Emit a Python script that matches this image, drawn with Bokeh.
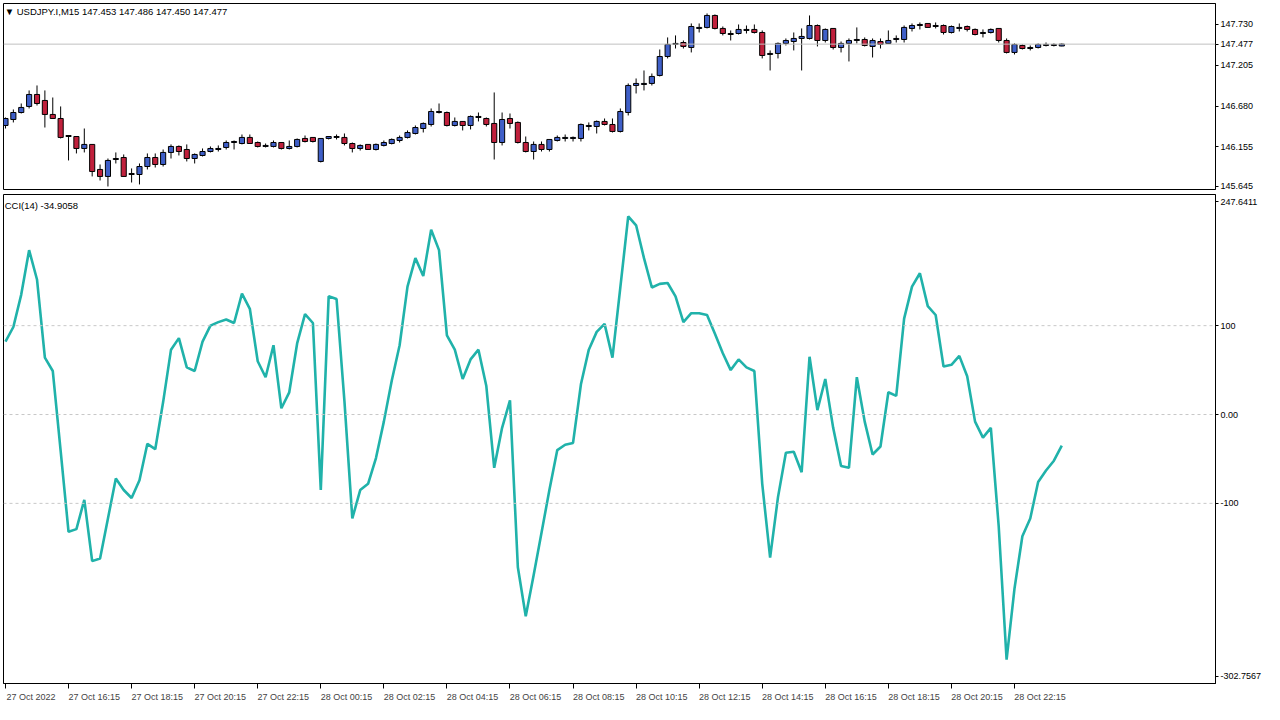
from bokeh.plotting import figure
from bokeh.layouts import column
from bokeh.models import (FixedTicker, Span, Label, Range1d, ColumnDataSource,
                          PrintfTickFormatter)
from bokeh.embed import file_html
from bokeh.resources import INLINE

# ---------------- data ----------------
symbol_header = "\u25BC USDJPY.I,M15  147.453 147.486 147.450 147.477"
cci_header = "CCI(14) -34.9058"
last_price = 147.477

opens = [146.430, 146.507, 146.597, 146.675, 146.829, 146.752, 146.572, 146.520, 146.288, 146.288,
         146.134, 146.186, 145.864, 145.774, 145.992, 146.018, 145.799, 145.799, 145.902, 146.018,
         145.928, 146.083, 146.160, 146.121, 146.005, 146.044, 146.095, 146.121, 146.147, 146.211,
         146.198, 146.276, 146.211, 146.160, 146.160, 146.211, 146.134, 146.160, 146.263, 146.276,
         145.967, 146.263, 146.276, 146.276, 146.198, 146.134, 146.186, 146.121, 146.173, 146.198,
         146.237, 146.276, 146.327, 146.391, 146.443, 146.597, 146.597, 146.430, 146.482, 146.430,
         146.533, 146.520, 146.456, 146.211, 146.520, 146.469, 146.211, 146.095, 146.186, 146.121,
         146.237, 146.263, 146.263, 146.263, 146.417, 146.417, 146.482, 146.443, 146.353, 146.597,
         146.945, 146.958, 146.971, 147.074, 147.318, 147.473, 147.498, 147.434, 147.679, 147.692,
         147.846, 147.679, 147.601, 147.614, 147.653, 147.666, 147.627, 147.344, 147.357, 147.486,
         147.511, 147.550, 147.550, 147.717, 147.524, 147.679, 147.434, 147.486, 147.524, 147.537,
         147.447, 147.511, 147.486, 147.537, 147.537, 147.679, 147.717, 147.743, 147.704, 147.717,
         147.627, 147.679, 147.704, 147.666, 147.614, 147.627, 147.679, 147.524, 147.370, 147.460,
         147.421, 147.434, 147.460, 147.460, 147.453]
highs = [146.533, 146.636, 146.713, 146.881, 146.945, 146.881, 146.790, 146.675, 146.301, 146.288,
         146.391, 146.186, 145.928, 146.005, 146.083, 146.057, 145.877, 145.941, 146.070, 146.070,
         146.121, 146.186, 146.173, 146.186, 146.070, 146.134, 146.160, 146.173, 146.237, 146.237,
         146.314, 146.314, 146.224, 146.198, 146.237, 146.211, 146.237, 146.263, 146.301, 146.276,
         146.263, 146.288, 146.314, 146.327, 146.211, 146.186, 146.186, 146.198, 146.237, 146.263,
         146.301, 146.366, 146.430, 146.469, 146.649, 146.713, 146.610, 146.533, 146.482, 146.559,
         146.597, 146.533, 146.855, 146.597, 146.584, 146.482, 146.288, 146.224, 146.224, 146.250,
         146.301, 146.314, 146.288, 146.456, 146.469, 146.494, 146.520, 146.520, 146.649, 146.971,
         147.035, 147.138, 147.099, 147.408, 147.563, 147.589, 147.524, 147.743, 147.743, 147.872,
         147.859, 147.704, 147.653, 147.730, 147.717, 147.730, 147.653, 147.396, 147.498, 147.550,
         147.627, 147.679, 147.846, 147.730, 147.679, 147.679, 147.511, 147.550, 147.692, 147.563,
         147.550, 147.550, 147.653, 147.589, 147.717, 147.743, 147.756, 147.743, 147.756, 147.730,
         147.717, 147.743, 147.717, 147.679, 147.666, 147.679, 147.679, 147.550, 147.486, 147.473,
         147.460, 147.486, 147.498, 147.486, 147.486]
lows = [146.391, 146.469, 146.584, 146.649, 146.687, 146.404, 146.520, 146.263, 145.980, 146.070,
        146.083, 145.774, 145.722, 145.645, 145.941, 145.774, 145.696, 145.671, 145.864, 145.889,
        145.902, 146.005, 146.044, 145.967, 145.941, 146.031, 146.083, 146.095, 146.121, 146.121,
        146.186, 146.198, 146.147, 146.147, 146.147, 146.121, 146.121, 146.147, 146.211, 146.211,
        145.954, 146.250, 146.250, 146.173, 146.083, 146.108, 146.121, 146.108, 146.160, 146.186,
        146.211, 146.263, 146.314, 146.340, 146.417, 146.584, 146.417, 146.417, 146.366, 146.379,
        146.482, 146.417, 145.992, 146.173, 146.391, 146.198, 146.083, 145.992, 146.095, 146.095,
        146.224, 146.224, 146.224, 146.224, 146.366, 146.327, 146.430, 146.340, 146.340, 146.559,
        146.842, 146.881, 146.945, 147.061, 147.293, 147.421, 147.421, 147.370, 147.627, 147.679,
        147.666, 147.589, 147.524, 147.601, 147.614, 147.614, 147.293, 147.138, 147.293, 147.460,
        147.396, 147.138, 147.537, 147.447, 147.498, 147.408, 147.370, 147.254, 147.486, 147.447,
        147.305, 147.421, 147.486, 147.498, 147.498, 147.640, 147.666, 147.692, 147.679, 147.601,
        147.614, 147.640, 147.640, 147.589, 147.563, 147.614, 147.498, 147.357, 147.344, 147.408,
        147.396, 147.421, 147.447, 147.447, 147.450]
closes = [146.520, 146.597, 146.662, 146.829, 146.713, 146.572, 146.520, 146.276, 146.301, 146.134,
          146.186, 145.838, 145.774, 145.980, 146.005, 145.774, 145.812, 145.902, 146.018, 145.928,
          146.083, 146.160, 146.095, 146.005, 146.057, 146.095, 146.134, 146.134, 146.211, 146.224,
          146.276, 146.198, 146.160, 146.173, 146.211, 146.134, 146.160, 146.250, 146.224, 146.224,
          146.263, 146.288, 146.288, 146.198, 146.134, 146.173, 146.121, 146.186, 146.211, 146.250,
          146.276, 146.340, 146.404, 146.456, 146.610, 146.610, 146.430, 146.482, 146.430, 146.546,
          146.546, 146.443, 146.211, 146.507, 146.456, 146.211, 146.095, 146.186, 146.121, 146.250,
          146.276, 146.276, 146.276, 146.443, 146.430, 146.482, 146.443, 146.353, 146.610, 146.945,
          146.971, 146.971, 147.061, 147.318, 147.473, 147.486, 147.447, 147.704, 147.692, 147.846,
          147.679, 147.614, 147.614, 147.666, 147.666, 147.627, 147.331, 147.357, 147.486, 147.524,
          147.550, 147.576, 147.717, 147.524, 147.666, 147.434, 147.486, 147.524, 147.537, 147.460,
          147.524, 147.473, 147.524, 147.550, 147.692, 147.717, 147.730, 147.692, 147.717, 147.627,
          147.704, 147.692, 147.666, 147.601, 147.627, 147.666, 147.524, 147.370, 147.473, 147.421,
          147.434, 147.473, 147.473, 147.473, 147.477]

cci = [82, 98.5, 135, 185, 152, 64, 49, -41, -132, -129,
       -96, -165, -162, -117, -72, -85, -94, -74, -33, -39,
       14, 73, 86, 53, 49, 82, 100, 104, 107, 103,
       136, 119, 60, 42, 78, 7, 25, 80, 113, 103,
       -85, 133, 130, 15, -117, -85, -78, -49, -8, 38,
       78, 144, 176, 156, 208, 185, 89, 73, 40, 62,
       73, 32, -60, -15, 16, -172, -227, -181, -133, -85,
       -40, -34, -32, 34, 73, 93, 102, 64, 143, 223,
       213, 176, 143, 147, 148, 133, 104, 114, 114, 112,
       91, 69, 50, 62, 53, 49, -78, -161, -93, -43,
       -42, -65, 65, 5, 40, -15, -58, -60, 42, -8,
       -45, -36, 25, 21, 108, 144, 159, 122, 112, 54,
       56, 66, 43, -8, -26, -15, -126, -276, -196, -137,
       -117, -76, -63, -52, -34.9058]

time_tick_bars = [0, 8, 16, 24, 32, 40, 48, 56, 64, 72, 80, 88, 96, 104, 112, 120, 128]
time_tick_labels = ["27 Oct 2022", "27 Oct 16:15", "27 Oct 18:15", "27 Oct 20:15",
                    "27 Oct 22:15", "28 Oct 00:15", "28 Oct 02:15", "28 Oct 04:15",
                    "28 Oct 06:15", "28 Oct 08:15", "28 Oct 10:15", "28 Oct 12:15",
                    "28 Oct 14:15", "28 Oct 16:15", "28 Oct 18:15", "28 Oct 20:15",
                    "28 Oct 22:15"]
price_ticks = [145.645, 146.155, 146.680, 147.205, 147.730]
price_range = (145.606, 148.000)
cci_levels = [100, 0, -100]
cci_level_labels = ["100", "0.00", "-100"]
cci_range = (-302.7567, 247.6411)
cci_range_labels = ["-302.7567", "247.6411"]

# ---------------- style ----------------
BULL = "#3F5FC8"
BEAR = "#C0203C"
CCI_COLOR = "#20B2AA"
FONT = "Liberation Sans"
FS = "9px"
W = 1264
RIGHT = 47
LABEL_SHIFT = 3.25     # left-align time labels at their tick (in bars)
EDGE_INSET = 8.0       # keep CCI range labels inside the pane (in CCI units)

n = len(closes)
xs = list(range(n))
x_range = Range1d(-0.25, 153.5)

src = ColumnDataSource(dict(
    x=xs,
    high=highs,
    low=lows,
    top=[max(o, c) for o, c in zip(opens, closes)],
    bottom=[min(o, c) for o, c in zip(opens, closes)],
    color=[BULL if c >= o else BEAR for o, c in zip(opens, closes)],
))


def style(p):
    p.background_fill_color = "white"
    p.border_fill_color = "white"
    p.outline_line_color = "black"
    p.outline_line_width = 1
    p.xgrid.visible = False
    p.ygrid.visible = False
    for ax in p.yaxis:
        ax.axis_line_color = "black"
        ax.major_tick_line_color = "black"
        ax.major_tick_out = 3
        ax.major_tick_in = 0
        ax.minor_tick_line_color = None
        ax.major_label_text_font = FONT
        ax.major_label_text_font_size = FS
        ax.major_label_text_color = "black"
        ax.major_label_standoff = 2


# ---------------- price pane ----------------
top = figure(width=W, height=192, x_range=x_range, y_range=Range1d(*price_range),
             output_backend="svg", toolbar_location=None, y_axis_location="right",
             x_axis_location=None, min_border_left=3, min_border_right=RIGHT,
             min_border_top=3, min_border_bottom=3)
style(top)
top.yaxis.ticker = FixedTicker(ticks=sorted(price_ticks + [last_price]))
top.yaxis.formatter = PrintfTickFormatter(format="%.3f")

top.add_layout(Span(location=last_price, dimension="width", line_color="#C0C0C0", line_width=1))
top.segment(x0="x", y0="low", x1="x", y1="high", source=src, line_color="black", line_width=1)
top.vbar(x="x", width=0.65, top="top", bottom="bottom", source=src,
         fill_color="color", line_color="black", line_width=1)

top.add_layout(Label(x=-0.1, y=147.965, text=symbol_header, text_font=FONT,
                     text_font_size="9.5px", text_baseline="top", text_color="black"))

# ---------------- CCI pane ----------------
bot = figure(width=W, height=512, x_range=x_range, y_range=Range1d(*cci_range),
             output_backend="svg", toolbar_location=None, y_axis_location="right",
             min_border_left=3, min_border_right=RIGHT, min_border_top=2,
             min_border_bottom=20)
style(bot)
cci_tick_pos = [cci_range[0] + EDGE_INSET] + cci_levels[::-1] + [cci_range[1] - EDGE_INSET]
cci_tick_txt = [cci_range_labels[0]] + cci_level_labels[::-1] + [cci_range_labels[1]]
bot.yaxis.ticker = FixedTicker(ticks=cci_tick_pos)
bot.yaxis.major_label_overrides = dict(zip(cci_tick_pos, cci_tick_txt))

# time axis: tick marks at the bars (minor ticks), labels starting at each tick
label_pos = [b + LABEL_SHIFT for b in time_tick_bars]
xa = bot.xaxis[0]
xa.ticker = FixedTicker(ticks=label_pos, minor_ticks=time_tick_bars)
xa.major_label_overrides = dict(zip(label_pos, time_tick_labels))
xa.axis_line_color = "black"
xa.major_tick_line_color = None
xa.minor_tick_line_color = "black"
xa.minor_tick_out = 5
xa.minor_tick_in = 0
xa.major_tick_out = 5
xa.major_tick_in = 0
xa.major_label_text_font = FONT
xa.major_label_text_font_size = FS
xa.major_label_standoff = 3

for lv in cci_levels:
    bot.add_layout(Span(location=lv, dimension="width", line_color="#C8C8C8",
                        line_dash="3 3", line_width=1))

bot.line(x=xs, y=cci, line_color=CCI_COLOR, line_width=2.6)

bot.add_layout(Label(x=-0.1, y=242, text=cci_header, text_font=FONT,
                     text_font_size="9.5px", text_baseline="top", text_color="black"))

layout = column(top, bot, spacing=0)
open("out.html", "w").write(file_html(layout, INLINE))
